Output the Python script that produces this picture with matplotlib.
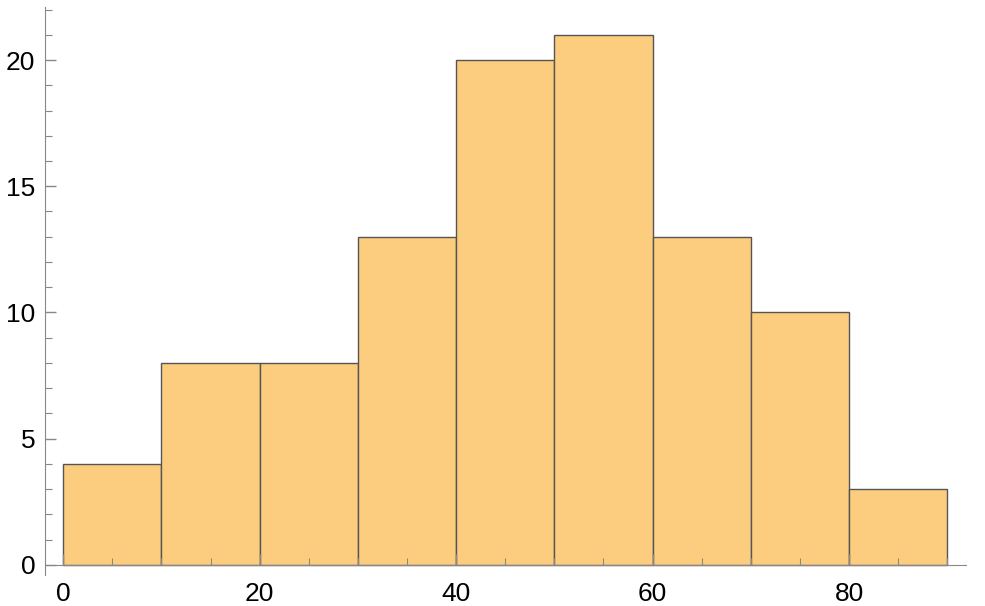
import numpy as np
import matplotlib.pyplot as plt
from matplotlib.ticker import MultipleLocator

# 度数分布（階級幅10）
bin_edges = [0, 10, 20, 30, 40, 50, 60, 70, 80, 90]
counts = [4, 8, 8, 13, 20, 21, 13, 10, 3]

plt.rcParams['font.family'] = ['Liberation Sans', 'DejaVu Sans']

fig = plt.figure(figsize=(9.85, 6.06), dpi=100)
ax = fig.add_axes([45 / 985, 31 / 606, (966 - 45) / 985, (575 - 7) / 606])

left = np.array(bin_edges[:-1])
width = np.diff(bin_edges)
ax.bar(left, counts, width=width, align="edge", color="#fccd7e",
       edgecolor="#555555", linewidth=1.0)

ax.set_xlim(-1.85, 91.9)
ax.set_ylim(-0.4, 22.1)

for s in ["top", "right"]:
    ax.spines[s].set_visible(False)
ax.spines["bottom"].set_position(("data", 0))
ax.spines["bottom"].set_color("#888888")
ax.spines["left"].set_color("#888888")

ax.xaxis.set_major_locator(MultipleLocator(20))
ax.xaxis.set_minor_locator(MultipleLocator(5))
ax.yaxis.set_major_locator(MultipleLocator(5))
ax.yaxis.set_minor_locator(MultipleLocator(1))

ax.tick_params(which="both", direction="in", color="#888888", labelsize=19)
ax.tick_params(which="major", length=8, width=1)
ax.tick_params(which="minor", length=5, width=0.8)
ax.tick_params(axis="x", pad=12)
ax.tick_params(axis="y", pad=7)

fig.savefig("out.png")
